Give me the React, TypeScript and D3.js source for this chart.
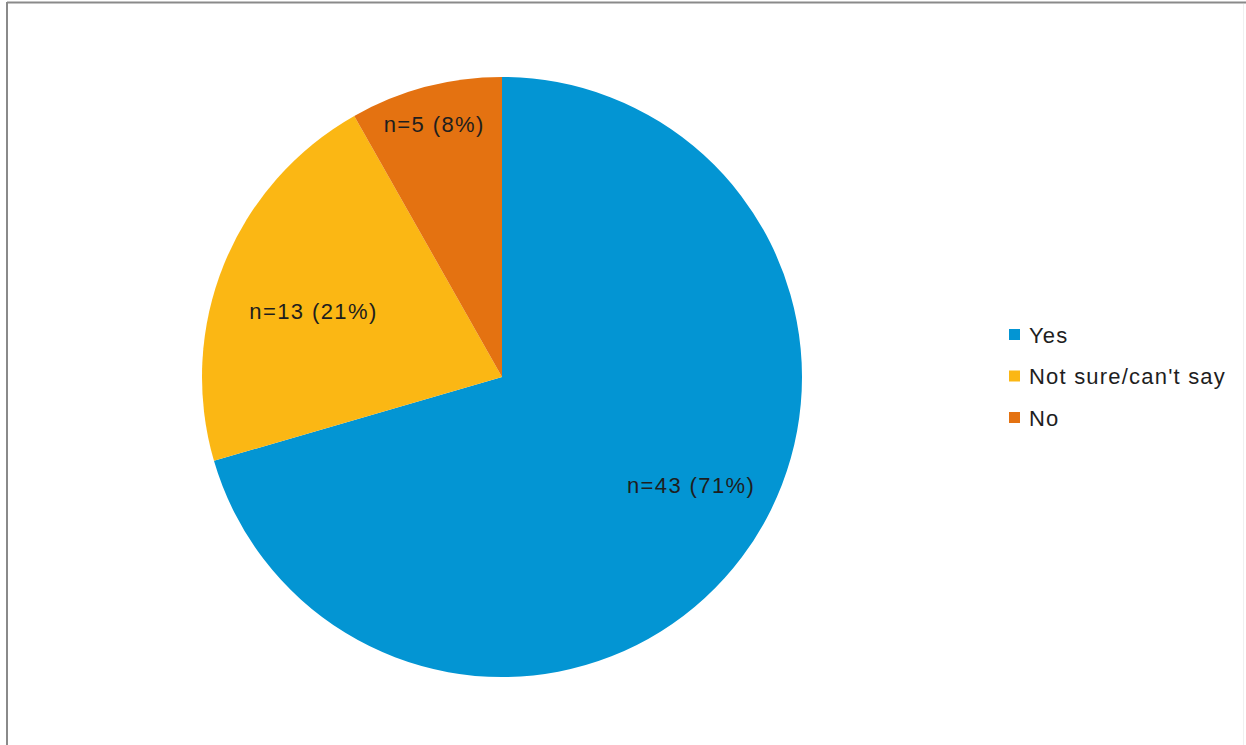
import React from "react";
import * as d3 from "d3";

const categories = ["Yes", "Not sure/can't say", "No"];
const counts = [43, 13, 5];
const percents = [71, 21, 8];
const colors = ["#0395D3", "#FBB714", "#E47211"];

// label placement: [radius fraction, angle offset in degrees] (layout only)
const labelPlacement: [number, number][] = [
  [0.727, -7],
  [0.665, -3],
  [0.87, -0.3],
];

const W = 1246;
const H = 745;
const cx = 502;
const cy = 377;
const R = 300;

export default function App() {
  const pie = d3.pie<number>().sort(null).value((d) => d);
  const arcs = pie(counts);
  const arcGen = d3.arc<d3.PieArcDatum<number>>().innerRadius(0).outerRadius(R);

  const fontFamily = "Arial, 'Liberation Sans', sans-serif";

  return (
    <div style={{ position: "absolute", left: 0, top: 0 }}>
      <svg width={W} height={H} style={{ display: "block", background: "#fff" }}>
        <rect x={0} y={0} width={W} height={H} fill="#fff" />
        {/* frame */}
        <line x1={7} y1={2.5} x2={W} y2={2.5} stroke="#8a8a8a" strokeWidth={2} />
        <line x1={7} y1={2} x2={7} y2={H} stroke="#8a8a8a" strokeWidth={2} />
        <line x1={W - 2.5} y1={4} x2={W - 2.5} y2={H} stroke="#f0f0f0" strokeWidth={1} />
        <g transform={`translate(${cx},${cy})`}>
          {arcs.map((a, i) => (
            <path key={i} d={arcGen(a) || ""} fill={colors[i]} />
          ))}
          {arcs.map((a, i) => {
            const [rf, off] = labelPlacement[i];
            const mid = (a.startAngle + a.endAngle) / 2 + (off * Math.PI) / 180;
            const r = rf * R;
            const x = r * Math.sin(mid);
            const y = -r * Math.cos(mid);
            return (
              <text
                key={"l" + i}
                x={x}
                y={y}
                textAnchor="middle"
                dominantBaseline="central"
                fontFamily={fontFamily}
                fontSize={22}
                letterSpacing={1.4}
                fill="#1e1e1e"
              >
                {`n=${counts[i]} (${percents[i]}%)`}
              </text>
            );
          })}
        </g>
        <g transform="translate(1009,335)">
          {categories.map((c, i) => (
            <g key={c} transform={`translate(0,${i * 41.5})`}>
              <rect x={0} y={-6} width={11} height={11} fill={colors[i]} />
              <text
                x={20}
                y={0}
                dominantBaseline="central"
                fontFamily={fontFamily}
                fontSize={22}
                letterSpacing={1.2}
                fill="#1e1e1e"
              >
                {c}
              </text>
            </g>
          ))}
        </g>
      </svg>
    </div>
  );
}
